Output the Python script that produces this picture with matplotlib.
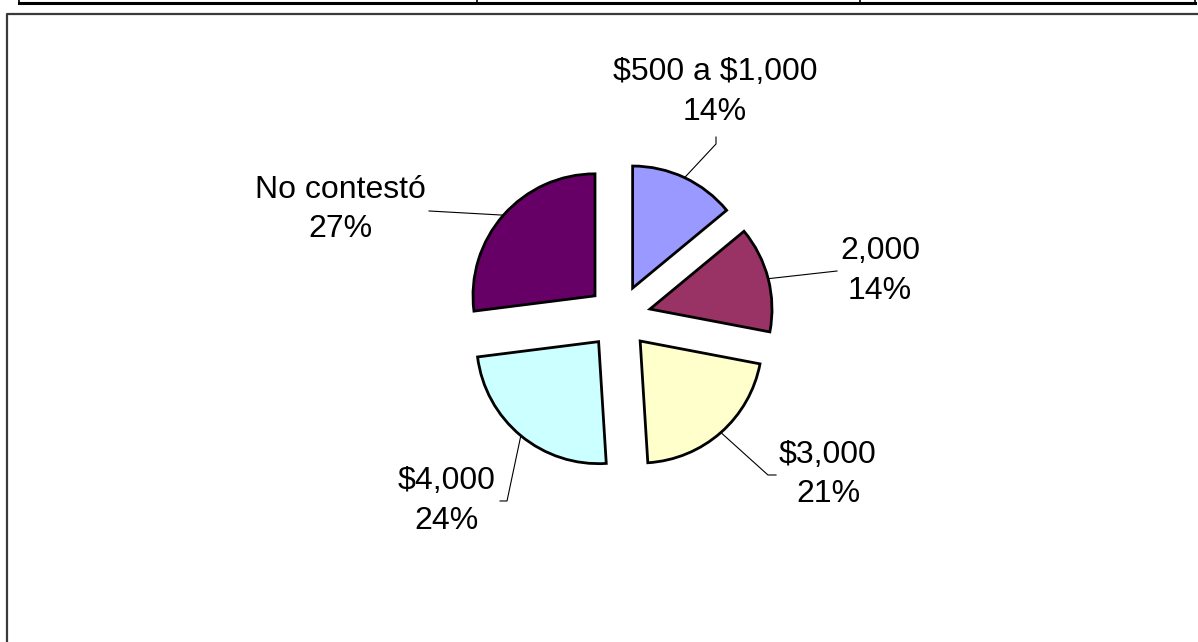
import matplotlib
matplotlib.use("Agg")
import matplotlib.pyplot as plt
import numpy as np
from matplotlib.lines import Line2D

plt.rcParams['font.family'] = ['Liberation Sans', 'DejaVu Sans']
plt.rcParams['text.parse_math'] = False

# ---- data ----
categories = ["$500 a $1,000", "2,000", "$3,000", "$4,000", "No contestó"]
percents = [14, 14, 21, 24, 27]
colors = ["#9999FF", "#993366", "#FFFFCC", "#CCFFFF", "#660066"]

# ---- layout (pixels) ----
W, H = 1198, 642
cx, cy = 619, 317          # pie centre in pixels (from top-left)
R = 122.0                  # pie radius in pixels
explode_px = 32.0

fig = plt.figure(figsize=(W / 100, H / 100), dpi=100)
ax = fig.add_axes([0, 0, 1, 1])

wedges, _ = ax.pie(percents, colors=colors, startangle=90, counterclock=False,
                   explode=[explode_px / R] * len(percents), radius=1.0,
                   wedgeprops=dict(edgecolor="black", linewidth=2.0))
ax.set_xlim((0 - cx) / R, (W - cx) / R)
ax.set_ylim((cy - H) / R, cy / R)
ax.set_aspect('auto')
ax.axis('off')

# label positions (pie units, relative to centre) and leader-line bends
label_pos = [(0.787, 1.844), (2.14, 0.377), (1.713, -1.291), (-1.41, -1.508), (-2.287, 0.881)]
leader_pts = [
    [(0.795, 1.418), (0.795, 1.475)],
    [(1.787, 0.377)],
    [(1.221, -1.295), (1.287, -1.295)],
    [(-0.918, -1.508), (-0.975, -1.508)],
    [(-1.557, 0.869)],
]

for w, cat, p, lp, pts in zip(wedges, categories, percents, label_pos, leader_pts):
    mid = np.deg2rad((w.theta1 + w.theta2) / 2)
    wx, wy = w.center
    sx, sy = wx + w.r * np.cos(mid), wy + w.r * np.sin(mid)
    xs = [sx] + [q[0] for q in pts]
    ys = [sy] + [q[1] for q in pts]
    ax.plot(xs, ys, color="black", linewidth=0.8)
    ax.text(lp[0], lp[1], f"{cat}\n{p}%", ha="center", va="center",
            fontsize=23, linespacing=1.42, color="black", parse_math=False)

# ---- frame decorations (figure pixel coordinates) ----
def fx(px):
    return px / W

def fy(py):
    return 1 - py / H

# top table strip
fig.add_artist(Line2D([fx(19), fx(1195)], [fy(3), fy(3)], color="black", linewidth=2.2))
for vx in [19, 477, 860, 1195]:
    fig.add_artist(Line2D([fx(vx), fx(vx)], [fy(0), fy(3)], color="black", linewidth=1.2))

# chart box (left and top edges visible)
fig.add_artist(Line2D([fx(7), fx(7), fx(W + 5)], [fy(H + 5), fy(13.5), fy(13.5)],
                      color="#3a3a3a", linewidth=1.6))

fig.savefig("out.png", dpi=100)
